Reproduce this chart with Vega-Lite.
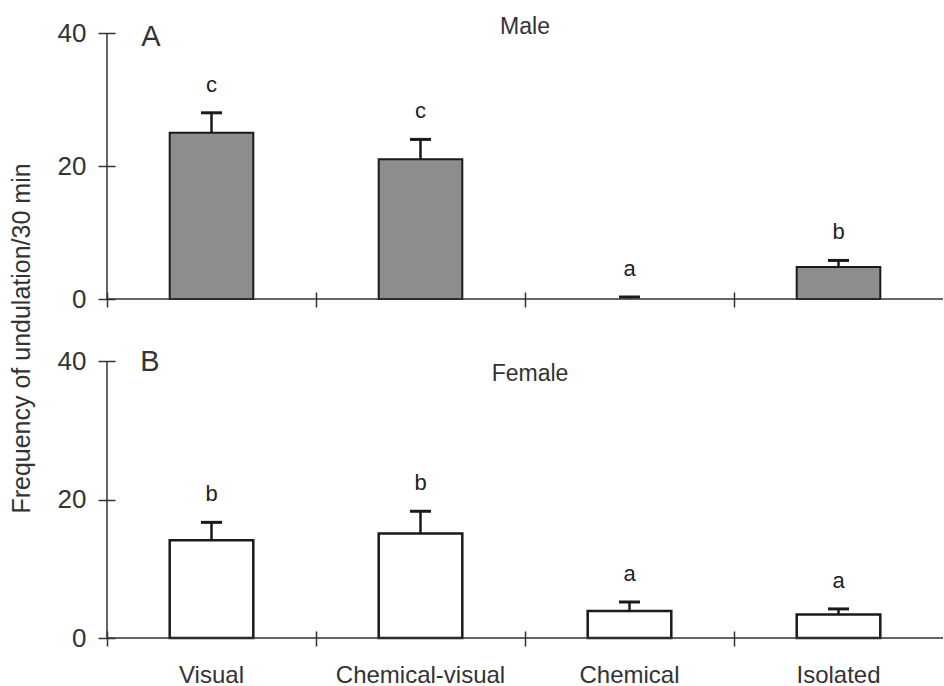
{
  "$schema": "https://vega.github.io/schema/vega-lite/v6.json",
  "background": "white",
  "padding": {"left": 10, "top": 16, "right": 0, "bottom": 0},
  "title": {"text": "Frequency of undulation/30 min", "orient": "left", "anchor": "middle", "fontSize": 25, "font": "Liberation Sans", "fontWeight": "normal", "color": "#333333", "offset": 22, "dx": 13},
  "datasets": {
    "d": [
      {"sex": "Male", "cond": "Visual", "mean": 25, "upper": 28, "letter": "c"},
      {"sex": "Male", "cond": "Chemical-visual", "mean": 21, "upper": 24, "letter": "c"},
      {"sex": "Male", "cond": "Chemical", "mean": 0, "upper": 0.3, "letter": "a"},
      {"sex": "Male", "cond": "Isolated", "mean": 4.8, "upper": 5.8, "letter": "b"},
      {"sex": "Female", "cond": "Visual", "mean": 14.1, "upper": 16.7, "letter": "b"},
      {"sex": "Female", "cond": "Chemical-visual", "mean": 15.1, "upper": 18.3, "letter": "b"},
      {"sex": "Female", "cond": "Chemical", "mean": 3.9, "upper": 5.2, "letter": "a"},
      {"sex": "Female", "cond": "Isolated", "mean": 3.4, "upper": 4.2, "letter": "a"}
    ],
    "panels": [
      {"sex": "Male", "panel": "A", "heading": "Male"},
      {"sex": "Female", "panel": "B", "heading": "Female"}
    ]
  },
  "spacing": 62,
  "bounds": "flush",
  "vconcat": [
    {
      "width": 836,
      "height": 266,
      "layer": [
        {
          "data": {"name": "d"},
          "transform": [{"filter": "datum.sex === 'Male' && datum.mean > 0"}],
          "mark": {"type": "bar", "fill": "#8d8d8d", "stroke": "#1a1a1a", "strokeWidth": 2, "width": {"band": 0.4}},
          "encoding": {
            "x": {"field": "cond", "type": "nominal", "scale": {"domain": ["Visual", "Chemical-visual", "Chemical", "Isolated"], "paddingInner": 0, "paddingOuter": 0},
              "axis": {"title": null, "labels": false, "domain": false, "bandPosition": 0, "offset": -7, "tickSize": 15, "tickWidth": 1.5, "tickColor": "#333333"}},
            "y": {"field": "mean", "type": "quantitative", "scale": {"domain": [0, 40]},
              "axis": {"title": null, "values": [0, 20, 40], "domain": false, "grid": false, "offset": -8, "tickSize": 17, "tickWidth": 1.5, "tickColor": "#333333", "labelPadding": 12, "labelFontSize": 26, "labelColor": "#333333", "labelFont": "Liberation Sans"}}
          }
        },
        {
          "data": {"name": "d"},
          "transform": [{"filter": "datum.sex === 'Male'"}],
          "mark": {"type": "rule", "stroke": "#1a1a1a", "strokeWidth": 2.5},
          "encoding": {
            "x": {"field": "cond", "type": "nominal"},
            "y": {"field": "mean", "type": "quantitative"},
            "y2": {"field": "upper"}
          }
        },
        {
          "data": {"name": "d"},
          "transform": [{"filter": "datum.sex === 'Male'"}],
          "mark": {"type": "tick", "color": "#1a1a1a", "size": 21, "thickness": 3, "opacity": 1},
          "encoding": {
            "x": {"field": "cond", "type": "nominal"},
            "y": {"field": "upper", "type": "quantitative"}
          }
        },
        {
          "data": {"name": "d"},
          "transform": [{"filter": "datum.sex === 'Male'"}],
          "mark": {"type": "text", "fontSize": 22, "color": "#222222", "baseline": "middle", "dy": -28, "font": "Liberation Sans"},
          "encoding": {
            "x": {"field": "cond", "type": "nominal"},
            "y": {"field": "upper", "type": "quantitative"},
            "text": {"field": "letter"}
          }
        },
        {
          "data": {"name": "panels"},
          "transform": [{"filter": "datum.sex === 'Male'"}],
          "mark": {"type": "rule", "stroke": "#333333", "strokeWidth": 1.5},
          "encoding": {"y": {"datum": 0, "type": "quantitative"}}
        },
        {
          "data": {"name": "panels"},
          "transform": [{"filter": "datum.sex === 'Male'"}],
          "mark": {"type": "rule", "stroke": "#333333", "strokeWidth": 1.5},
          "encoding": {"x": {"datum": "Visual", "type": "nominal", "bandPosition": 0}}
        },
        {
          "data": {"name": "panels"},
          "transform": [{"filter": "datum.sex === 'Male'"}],
          "mark": {"type": "text", "fontSize": 23, "color": "#333333", "baseline": "middle", "align": "center", "font": "Liberation Sans"},
          "encoding": {
            "x": {"datum": "Chemical-visual", "type": "nominal", "bandPosition": 1},
            "y": {"datum": 40.9, "type": "quantitative"},
            "text": {"field": "heading"}
          }
        },
        {
          "data": {"name": "panels"},
          "transform": [{"filter": "datum.sex === 'Male'"}],
          "mark": {"type": "text", "fontSize": 29, "color": "#333333", "baseline": "middle", "align": "center", "dx": 44, "font": "Liberation Sans"},
          "encoding": {
            "x": {"datum": "Visual", "type": "nominal", "bandPosition": 0},
            "y": {"datum": 39.4, "type": "quantitative"},
            "text": {"field": "panel"}
          }
        }
      ]
    },
    {
      "width": 836,
      "height": 277,
      "layer": [
        {
          "data": {"name": "d"},
          "transform": [{"filter": "datum.sex === 'Female'"}],
          "mark": {"type": "bar", "fill": "white", "stroke": "#1a1a1a", "strokeWidth": 2.5, "width": {"band": 0.4}},
          "encoding": {
            "x": {"field": "cond", "type": "nominal", "scale": {"domain": ["Visual", "Chemical-visual", "Chemical", "Isolated"], "paddingInner": 0, "paddingOuter": 0},
              "axis": {"title": null, "labels": true, "labelAngle": 0, "labelPadding": 17, "labelFontSize": 24, "labelColor": "#333333", "labelFont": "Liberation Sans", "domain": false, "bandPosition": 0, "offset": -7, "tickSize": 15, "tickWidth": 1.5, "tickColor": "#333333"}},
            "y": {"field": "mean", "type": "quantitative", "scale": {"domain": [0, 40]},
              "axis": {"title": null, "values": [0, 20, 40], "domain": false, "grid": false, "offset": -8, "tickSize": 17, "tickWidth": 1.5, "tickColor": "#333333", "labelPadding": 12, "labelFontSize": 26, "labelColor": "#333333", "labelFont": "Liberation Sans"}}
          }
        },
        {
          "data": {"name": "d"},
          "transform": [{"filter": "datum.sex === 'Female'"}],
          "mark": {"type": "rule", "stroke": "#1a1a1a", "strokeWidth": 2.5},
          "encoding": {
            "x": {"field": "cond", "type": "nominal"},
            "y": {"field": "mean", "type": "quantitative"},
            "y2": {"field": "upper"}
          }
        },
        {
          "data": {"name": "d"},
          "transform": [{"filter": "datum.sex === 'Female'"}],
          "mark": {"type": "tick", "color": "#1a1a1a", "size": 21, "thickness": 3, "opacity": 1},
          "encoding": {
            "x": {"field": "cond", "type": "nominal"},
            "y": {"field": "upper", "type": "quantitative"}
          }
        },
        {
          "data": {"name": "d"},
          "transform": [{"filter": "datum.sex === 'Female'"}],
          "mark": {"type": "text", "fontSize": 22, "color": "#222222", "baseline": "middle", "dy": -28, "font": "Liberation Sans"},
          "encoding": {
            "x": {"field": "cond", "type": "nominal"},
            "y": {"field": "upper", "type": "quantitative"},
            "text": {"field": "letter"}
          }
        },
        {
          "data": {"name": "panels"},
          "transform": [{"filter": "datum.sex === 'Female'"}],
          "mark": {"type": "rule", "stroke": "#333333", "strokeWidth": 1.5},
          "encoding": {"y": {"datum": 0, "type": "quantitative"}}
        },
        {
          "data": {"name": "panels"},
          "transform": [{"filter": "datum.sex === 'Female'"}],
          "mark": {"type": "rule", "stroke": "#333333", "strokeWidth": 1.5},
          "encoding": {"x": {"datum": "Visual", "type": "nominal", "bandPosition": 0}}
        },
        {
          "data": {"name": "panels"},
          "transform": [{"filter": "datum.sex === 'Female'"}],
          "mark": {"type": "text", "fontSize": 23, "color": "#333333", "baseline": "middle", "align": "center", "dx": 5, "font": "Liberation Sans"},
          "encoding": {
            "x": {"datum": "Chemical-visual", "type": "nominal", "bandPosition": 1},
            "y": {"datum": 38.1, "type": "quantitative"},
            "text": {"field": "heading"}
          }
        },
        {
          "data": {"name": "panels"},
          "transform": [{"filter": "datum.sex === 'Female'"}],
          "mark": {"type": "text", "fontSize": 29, "color": "#333333", "baseline": "middle", "align": "center", "dx": 43, "font": "Liberation Sans"},
          "encoding": {
            "x": {"datum": "Visual", "type": "nominal", "bandPosition": 0},
            "y": {"datum": 39.85, "type": "quantitative"},
            "text": {"field": "panel"}
          }
        }
      ]
    }
  ],
  "config": {
    "view": {"stroke": null},
    "font": "Liberation Sans",
    "title": {"font": "Liberation Sans"}
  }
}
